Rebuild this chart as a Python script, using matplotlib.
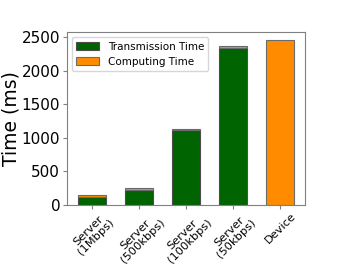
import matplotlib
matplotlib.use("Agg")
import matplotlib.pyplot as plt
import numpy as np

labels = ["Server\n(1Mbps)", "Server\n(500kbps)", "Server\n(100kbps)", "Server\n(50kbps)", "Device"]
transmission = [125, 226, 1110, 2338, 0]
computing = [22, 22, 22, 22, 2450]
yticks = [0, 500, 1000, 1500, 2000, 2500]

x = np.arange(len(labels))

fig = plt.figure(figsize=(3.39, 2.7), dpi=100)
ax = fig.add_axes([0.198, 0.241, 0.702, 0.64])

ax.bar(x, transmission, width=0.6, color="darkgreen", edgecolor="#4d4d4d",
       linewidth=0.8, label="Transmission Time")
ax.bar(x, computing, width=0.6, bottom=transmission, color="darkorange",
       edgecolor="#6b6b6b", linewidth=0.8, label="Computing Time")

ax.set_ylabel("Time (ms)", fontsize=13.5, labelpad=1)
ax.set_yticks(yticks)
ax.set_xticks(x)
ax.set_xticklabels(labels, rotation=45, ha="center", fontsize=8.2,
                   linespacing=0.95)
ax.tick_params(axis="y", labelsize=11, color="#808080", length=3, pad=2)
ax.tick_params(axis="x", color="#808080", length=3, pad=1)
for s in ax.spines.values():
    s.set_color("#808080")

ax.legend(loc="upper left", fontsize=7.5, handlelength=2.2)

fig.savefig("out.png", dpi=100)
